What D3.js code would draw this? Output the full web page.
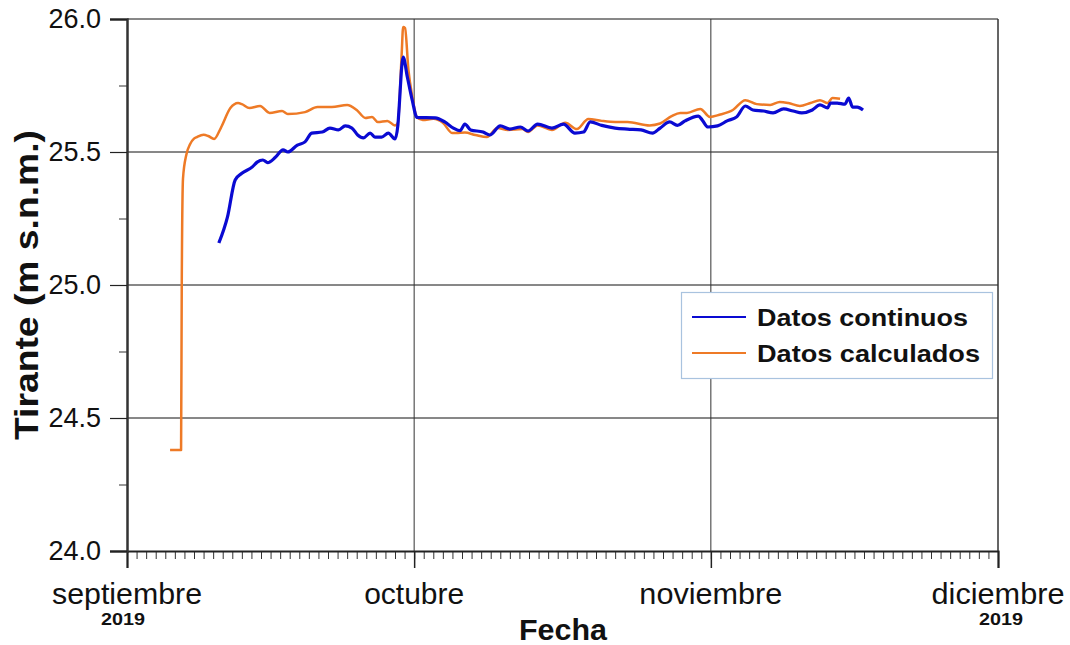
<!DOCTYPE html>
<html>
<head>
<meta charset="utf-8">
<script src="https://cdn.jsdelivr.net/npm/d3@7"></script>
<style>
  html, body { margin: 0; padding: 0; background: #fff; }
  svg { display: block; font-family: "Liberation Sans", Arial, sans-serif; }
</style>
</head>
<body>
<svg id="chart" width="1070" height="645"></svg>
<script>
// ---- Data (days since 1 Sep 2019 00:00, water level in m s.n.m.) ----
const calcDays = [4.5, 5.65, 5.72, 5.85, 6.2, 6.6, 7.0, 7.3, 8.0, 8.5, 9.1, 9.8, 10.8, 11.6, 12.0, 12.8, 13.9, 14.9, 16.2, 16.8, 18.6, 19.9, 21.4, 23.0, 24.0, 24.9, 25.6, 26.2, 27.2, 28.0, 28.3, 28.7, 28.85, 29.05, 29.4, 29.8, 30.3, 30.9, 32.0, 33.0, 34.0, 34.4, 35.3, 36.4, 37.6, 38.7, 39.8, 41.3, 41.9, 42.9, 44.4, 45.8, 47.0, 48.2, 49.6, 51.0, 52.3, 54.6, 55.7, 56.9, 57.8, 58.5, 59.9, 60.9, 61.9, 63.3, 64.6, 65.8, 67.2, 68.2, 69.1, 70.3, 71.4, 72.4, 73.2, 73.7, 74.5];
const calcValues = [24.38, 24.38, 25.00, 25.40, 25.49, 25.53, 25.55, 25.556, 25.565, 25.56, 25.549, 25.59, 25.665, 25.684, 25.68, 25.665, 25.673, 25.647, 25.654, 25.643, 25.65, 25.669, 25.669, 25.677, 25.658, 25.628, 25.632, 25.613, 25.617, 25.60, 25.61, 25.87, 25.97, 25.966, 25.81, 25.71, 25.63, 25.62, 25.625, 25.61, 25.571, 25.571, 25.573, 25.564, 25.556, 25.59, 25.583, 25.586, 25.575, 25.60, 25.583, 25.61, 25.586, 25.624, 25.617, 25.613, 25.613, 25.60, 25.607, 25.635, 25.647, 25.647, 25.662, 25.632, 25.64, 25.658, 25.695, 25.68, 25.677, 25.688, 25.684, 25.673, 25.684, 25.695, 25.684, 25.703, 25.70];

const contDays = [9.6, 10.5, 11.3, 12.0, 13.1, 13.6, 14.2, 14.7, 15.5, 16.3, 16.8, 17.8, 18.6, 19.3, 20.4, 21.2, 22.1, 22.8, 23.5, 24.1, 24.7, 25.4, 25.9, 26.6, 27.3, 28.0, 28.3, 28.4, 28.85, 29.3, 29.8, 30.3, 32.2, 33.2, 34.1, 34.8, 35.3, 35.9, 37.2, 37.9, 39.0, 40.0, 41.1, 41.9, 42.9, 44.4, 45.6, 46.8, 47.7, 48.4, 49.6, 51.0, 52.3, 53.7, 54.9, 55.7, 56.7, 57.5, 58.3, 59.7, 60.1, 60.7, 61.7, 62.7, 63.7, 64.6, 65.4, 66.5, 67.5, 68.6, 69.6, 70.5, 71.6, 72.4, 73.2, 73.5, 74.2, 75.0, 75.4, 75.8, 76.3, 76.9];
const contValues = [25.158, 25.256, 25.395, 25.42, 25.444, 25.462, 25.47, 25.46, 25.48, 25.508, 25.50, 25.526, 25.538, 25.571, 25.575, 25.59, 25.583, 25.598, 25.59, 25.564, 25.553, 25.571, 25.556, 25.556, 25.571, 25.549, 25.60, 25.65, 25.857, 25.78, 25.695, 25.63, 25.628, 25.613, 25.59, 25.58, 25.605, 25.583, 25.575, 25.564, 25.598, 25.586, 25.594, 25.579, 25.605, 25.59, 25.605, 25.571, 25.575, 25.613, 25.60, 25.59, 25.586, 25.583, 25.571, 25.59, 25.613, 25.60, 25.617, 25.635, 25.62, 25.594, 25.598, 25.617, 25.632, 25.673, 25.658, 25.654, 25.647, 25.662, 25.654, 25.647, 25.658, 25.677, 25.666, 25.684, 25.684, 25.68, 25.703, 25.669, 25.669, 25.658];

const monthLabels = ["septiembre", "octubre", "noviembre", "diciembre"];
const yearLabel = "2019";
const yTicks = [24.0, 24.5, 25.0, 25.5, 26.0];
const yMinorTicks = [24.25, 24.75, 25.25, 25.75];
const seriesNames = ["Datos continuos", "Datos calculados"];
const seriesColors = ["#0a0ad2", "#ee7a26"];
const xTitle = "Fecha";
const yTitle = "Tirante (m s.n.m.)";

// ---- Layout ----
const svg = d3.select("#chart");
const m = { left: 127, right: 998, top: 19, bottom: 551 };
const start = new Date(2019, 8, 1);
const end = new Date(2019, 11, 1);
const x = d3.scaleTime().domain([start, end]).range([m.left, m.right]);
const y = d3.scaleLinear().domain([24, 26]).range([m.bottom, m.top]);
const toDate = d => d3.timeMinute.offset(start, Math.round(d * 1440));

const calc = calcDays.map((d, i) => ({ t: toDate(d), v: calcValues[i] }));
const cont = contDays.map((d, i) => ({ t: toDate(d), v: contValues[i] }));

// gridlines
const grid = svg.append("g");
grid.selectAll("line.h").data(yTicks.slice(1)).join("line")
  .attr("x1", m.left).attr("x2", m.right)
  .attr("y1", d => y(d)).attr("y2", d => y(d))
  .attr("stroke", "#111").attr("stroke-width", 1);
const months = d3.timeMonth.range(start, d3.timeDay.offset(end, 1));
grid.selectAll("line.v").data(months.slice(1)).join("line")
  .attr("x1", d => x(d)).attr("x2", d => x(d))
  .attr("y1", m.top).attr("y2", m.bottom)
  .attr("stroke", "#333").attr("stroke-width", 1);

// x axis minor (daily) ticks
const xMinor = svg.append("g").attr("transform", `translate(0,${m.bottom})`)
  .call(d3.axisBottom(x).ticks(d3.timeDay.every(1)).tickSize(8).tickFormat(""));
xMinor.select(".domain").remove();
xMinor.selectAll("line").attr("stroke", "#333");
// x axis major ticks
const xMajor = svg.append("g").attr("transform", `translate(0,${m.bottom})`)
  .call(d3.axisBottom(x).tickValues(months).tickSize(17).tickFormat(""));
xMajor.select(".domain").attr("stroke", "#222").attr("stroke-width", 2);
xMajor.selectAll("line").attr("stroke", "#222").attr("stroke-width", 1.5);

// month labels
const monthWidths = [150, 100, 143, 133];
svg.append("g").selectAll("text").data(months).join("text")
  .attr("x", d => x(d)).attr("y", 604)
  .attr("text-anchor", "middle").attr("font-size", 30).attr("fill", "#111")
  .attr("textLength", (d, i) => monthWidths[i]).attr("lengthAdjust", "spacingAndGlyphs")
  .text((d, i) => monthLabels[i]);
svg.append("g").selectAll("text").data([months[0], months[3]]).join("text")
  .attr("x", (d, i) => x(d) + (i === 0 ? -4 : 3)).attr("y", 625)
  .attr("text-anchor", "middle").attr("font-size", 17).attr("font-weight", "bold").attr("fill", "#111")
  .attr("textLength", 44).attr("lengthAdjust", "spacingAndGlyphs")
  .text(yearLabel);

// y axis
const yMinor = svg.append("g").attr("transform", `translate(${m.left},0)`)
  .call(d3.axisLeft(y).tickValues(yMinorTicks).tickSize(8).tickFormat(""));
yMinor.select(".domain").remove();
yMinor.selectAll("line").attr("stroke", "#333");
const yAxis = svg.append("g").attr("transform", `translate(${m.left},0)`)
  .call(d3.axisLeft(y).tickValues(yTicks).tickSize(17).tickPadding(9).tickFormat(d3.format(".1f")));
yAxis.select(".domain").attr("stroke", "#333").attr("stroke-width", 2.5);
yAxis.selectAll("line").attr("stroke", "#222").attr("stroke-width", 1.2);
yAxis.selectAll("text").attr("font-size", 27).attr("fill", "#111").attr("font-family", "Liberation Sans, Arial, sans-serif");

// right border
svg.append("line").attr("x1", m.right).attr("x2", m.right).attr("y1", m.top).attr("y2", m.bottom)
  .attr("stroke", "#333").attr("stroke-width", 1);

// lines
const line = d3.line().x(d => x(d.t)).y(d => y(d.v)).curve(d3.curveMonotoneX);
svg.append("path").datum(calc).attr("d", line).attr("fill", "none")
  .attr("stroke", seriesColors[1]).attr("stroke-width", 2.5).attr("stroke-linejoin", "round");
svg.append("path").datum(cont).attr("d", line).attr("fill", "none")
  .attr("stroke", seriesColors[0]).attr("stroke-width", 3.2).attr("stroke-linejoin", "round");

// titles
svg.append("text").attr("x", 563).attr("y", 640).attr("text-anchor", "middle")
  .attr("font-size", 30).attr("font-weight", "bold").attr("fill", "#111")
  .attr("textLength", 88).attr("lengthAdjust", "spacingAndGlyphs").text(xTitle);
svg.append("text").attr("transform", "translate(38,285) rotate(-90)").attr("text-anchor", "middle")
  .attr("font-size", 33).attr("font-weight", "bold").attr("fill", "#111")
  .attr("textLength", 310).attr("lengthAdjust", "spacingAndGlyphs").text(yTitle);

// legend
const legendWidths = [211, 223];
const lg = svg.append("g");
lg.append("rect").attr("x", 681.5).attr("y", 292.5).attr("width", 311).attr("height", 86)
  .attr("fill", "#fff").attr("stroke", "#a9c3df").attr("stroke-width", 1.2);
seriesNames.forEach((n, i) => {
  const yy = 317 + i * 36;
  lg.append("line").attr("x1", 692).attr("x2", 746).attr("y1", yy).attr("y2", yy)
    .attr("stroke", seriesColors[i]).attr("stroke-width", 2.2);
  lg.append("text").attr("x", 757).attr("y", yy + 9).attr("font-size", 23.5).attr("font-weight", "bold")
    .attr("fill", "#111").attr("textLength", legendWidths[i]).attr("lengthAdjust", "spacingAndGlyphs").text(n);
});
</script>
</body>
</html>
